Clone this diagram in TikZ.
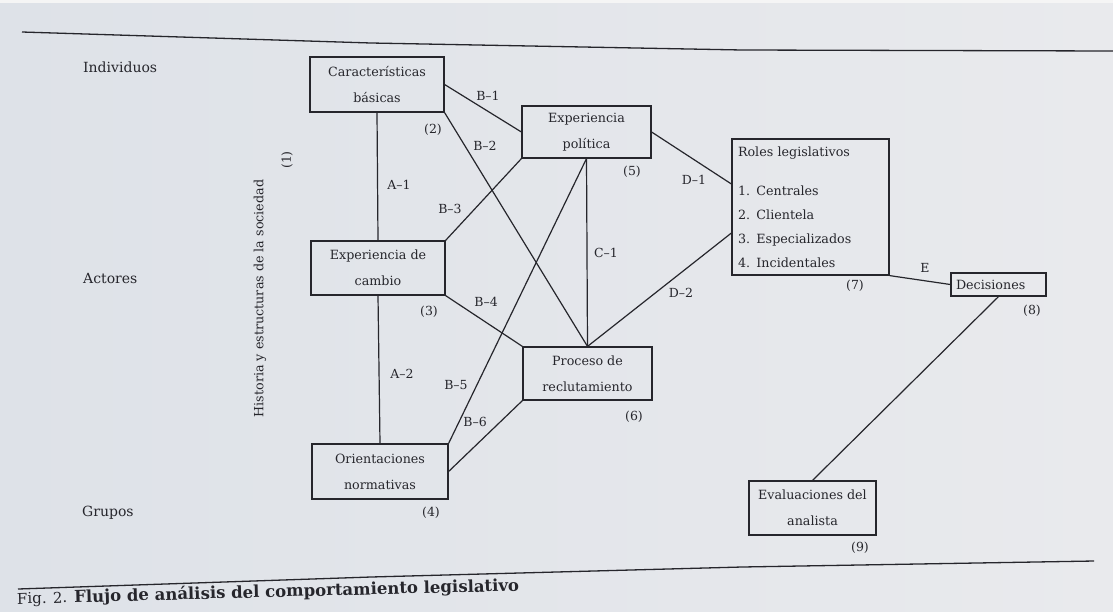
\documentclass[tikz,border=0pt]{standalone}
\usepackage{fontspec}
\setmainfont{DejaVu Serif}
\definecolor{paperL}{RGB}{222,226,232}
\definecolor{paperR}{RGB}{233,234,237}
\definecolor{ink}{RGB}{38,38,44}
\begin{document}
\begin{tikzpicture}[x=1pt,y=-1pt,
  every node/.style={text=ink},
  box/.style={draw=ink, line width=1.2pt, align=center, inner sep=0pt,
              font=\fontsize{12.7}{26}\selectfont},
  lbl/.style={font=\fontsize{12.5}{15}\selectfont, inner sep=1pt},
  rowlbl/.style={anchor=west, font=\fontsize{14}{16}\selectfont, inner sep=0pt},
  link/.style={draw=ink, line width=1.2pt},
  rulestyle/.style={draw=ink, line width=1.3pt}]
\fill[left color=paperL, right color=paperR] (0,0) rectangle (1113,611);
\fill[white!92!gray] (0,0) rectangle (1113,3);
\useasboundingbox (0,0) rectangle (1113,611);

% rules
\draw[rulestyle] (22,32) -- (371,43) -- (742,50) -- (1113,51);
\draw[rulestyle] (18,589) -- (371,577) -- (742,567) -- (1094,561);

% row labels
\node[rowlbl] (ind) at (83,67) {Individuos};
\node[rowlbl] (act) at (83,278) {Actores};
\node[rowlbl] (gru) at (82,513) {Grupos};

% vertical text
\node[rotate=90, font=\fontsize{12.7}{15}\selectfont, inner sep=0pt] (hist) at (260,298.5) {Historia y estructuras de la sociedad};
\node[rotate=90, font=\fontsize{12.5}{15}\selectfont, inner sep=0pt] (n1) at (287,160) {(1)};

% boxes
\node[box, minimum width=134pt, minimum height=55pt] (car) at (377,84.5) {Características\\básicas};
\node[box, minimum width=134pt, minimum height=54pt] (cam) at (378,268) {Experiencia de\\cambio};
\node[box, minimum width=136pt, minimum height=55pt] (ori) at (380,471.5) {Orientaciones\\normativas};
\node[box, minimum width=129pt, minimum height=52pt] (pol) at (586.5,132) {Experiencia\\política};
\node[box, minimum width=129pt, minimum height=53pt] (pro) at (587.5,373.5) {Proceso de\\reclutamiento};
\node[box, minimum width=157pt, minimum height=136pt, text width=145pt, align=left,
      font=\fontsize{12.7}{24}\selectfont] (rol) at (810.5,207)
      {Roles legislativos\\[15pt]1. Centrales\\2. Clientela\\3. Especializados\\4. Incidentales};
\node[box, minimum width=95pt, minimum height=23pt, text width=85pt, align=left] (dec) at (998.5,284.5) {Decisiones};
\node[box, minimum width=127pt, minimum height=54pt] (eva) at (812.5,508) {Evaluaciones del\\analista};

% connectors
\draw[link] (car.south) -- (cam.north);
\draw[link] (cam.south) -- (ori.north);
\draw[link] (car.east) -- (pol.west);
\draw[link] (car.south east) -- (pro.north);
\draw[link] (cam.north east) -- (pol.south west);
\draw[link] (cam.south east) -- (pro.north west);
\draw[link] (ori.north east) -- (pol.south);
\draw[link] (ori.east) -- (pro.south west);
\draw[link] (pol.south) -- (pro.north);
\draw[link] (pol.east) -- ([yshift=23pt]rol.west);
\draw[link] (pro.north) -- ([yshift=-26pt]rol.west);
\draw[link] (rol.south east) -- (dec.west);
\draw[link] (dec.south) -- (eva.north);

% labels
\node[lbl] (lB1) at (488,96) {B–1};
\node[lbl] (l2) at (433,130) {(2)};
\node[lbl] (lB2) at (485,146) {B–2};
\node[lbl] (lA1) at (399,185) {A–1};
\node[lbl] (lB3) at (450,209) {B–3};
\node[lbl] (l5) at (632,172) {(5)};
\node[lbl] (lD1) at (694,180) {D–1};
\node[lbl] (lC1) at (606,253) {C–1};
\node[lbl] (lD2) at (681,293) {D–2};
\node[lbl] (lB4) at (486,302) {B–4};
\node[lbl] (l3) at (429,312) {(3)};
\node[lbl] (lA2) at (402,374) {A–2};
\node[lbl] (lB5) at (456,385) {B–5};
\node[lbl] (lB6) at (475,422) {B–6};
\node[lbl] (l4) at (431,513) {(4)};
\node[lbl] (l6) at (634,417) {(6)};
\node[lbl] (l7) at (855,286) {(7)};
\node[lbl] (lE) at (925,268) {E};
\node[lbl] (l8) at (1032,311) {(8)};
\node[lbl] (l9) at (860,548) {(9)};

% caption
\node[anchor=base west, rotate=1.5, inner sep=0pt, font=\fontsize{16.5}{18}\selectfont] (cap) at (17,604)
  {{\fontsize{15}{16}\selectfont Fig. 2.} \textbf{Flujo de análisis del comportamiento legislativo}};
\end{tikzpicture}
\end{document}
